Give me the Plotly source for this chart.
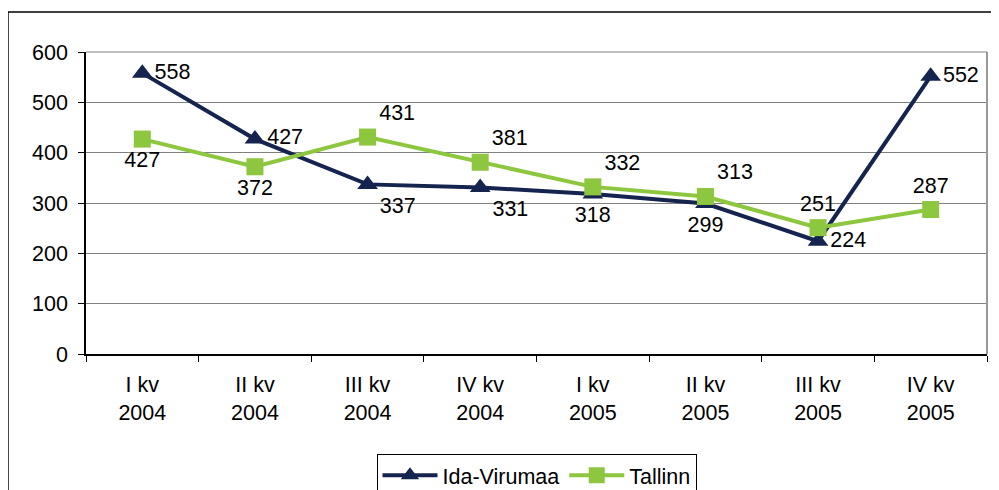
import plotly.graph_objects as go

categories = ["I kv<br>2004", "II kv<br>2004", "III kv<br>2004", "IV kv<br>2004",
              "I kv<br>2005", "II kv<br>2005", "III kv<br>2005", "IV kv<br>2005"]
ida_virumaa = [558, 427, 337, 331, 318, 299, 224, 552]
tallinn = [427, 372, 431, 381, 332, 313, 251, 287]
y_ticks = [0, 100, 200, 300, 400, 500, 600]

ida_pos = ["middle right", "middle right", "bottom right", "bottom right",
           "bottom center", "bottom center", "middle right", "middle right"]
tal_pos = ["bottom center", "bottom center", "top right", "top right",
           "top right", "top right", "top center", "top center"]

navy = "#15244F"
green = "#8DC63F"
font = "Liberation Sans, Arial, sans-serif"
fs = 21.5

fig = go.Figure()
fig.add_trace(go.Scatter(
    x=categories, y=ida_virumaa, name="Ida-Virumaa", mode="lines+markers+text",
    line=dict(color=navy, width=4),
    marker=dict(symbol="triangle-up", size=18, color=navy),
    text=[str(v) for v in ida_virumaa], textposition=ida_pos,
    textfont=dict(family=font, size=fs, color="black"),
    cliponaxis=False,
))
fig.add_trace(go.Scatter(
    x=categories, y=tallinn, name="Tallinn", mode="lines+markers+text",
    line=dict(color=green, width=4),
    marker=dict(symbol="square", size=17, color=green),
    text=[str(v) for v in tallinn], textposition=tal_pos,
    textfont=dict(family=font, size=fs, color="black"),
    cliponaxis=False,
))

# the page adds an 8px body margin, so the figure is sized and placed to compensate
fig.update_layout(
    width=991, height=482,
    margin=dict(l=78, r=12, t=44, b=136, autoexpand=False),
    plot_bgcolor="white", paper_bgcolor="white",
    font=dict(family=font, size=fs, color="black"),
    showlegend=True,
    legend=dict(orientation="h", x=0.5, xanchor="center", y=-0.33, yanchor="top",
                bordercolor="black", borderwidth=1, font=dict(size=fs),
                tracegroupgap=0, itemwidth=55),
    shapes=[
        dict(type="line", xref="paper", yref="paper", x0=-0.0866, x1=1.02, y0=1.1325, y1=1.1325,
             line=dict(color="black", width=1.5)),
        dict(type="line", xref="paper", yref="paper", x0=-0.0866, x1=-0.0866, y0=1.1325, y1=-0.46,
             line=dict(color="black", width=1.5)),
        dict(type="line", xref="paper", yref="paper", x0=1, x1=1, y0=0, y1=1,
             line=dict(color="#999999", width=2)),
        dict(type="line", xref="paper", yref="paper", x0=0, x1=1, y0=1, y1=1,
             line=dict(color="#808080", width=1)),
    ],
)
fig.update_xaxes(
    type="category", showline=True, linecolor="black", linewidth=1.5,
    ticks="outside", ticklen=6, tickcolor="black", tickson="boundaries",
    showgrid=False, tickfont=dict(size=fs), range=[-0.5, 7.5], automargin=False,
    ticklabelstandoff=10,
)
fig.update_yaxes(
    range=[0, 600], tickvals=y_ticks, showline=True, linecolor="black", linewidth=1.5,
    ticks="outside", ticklen=6, tickcolor="black",
    showgrid=True, gridcolor="#808080", gridwidth=1, zeroline=False,
    tickfont=dict(size=fs), ticklabelstandoff=6, automargin=False,
)

fig.write_html("out.html")
